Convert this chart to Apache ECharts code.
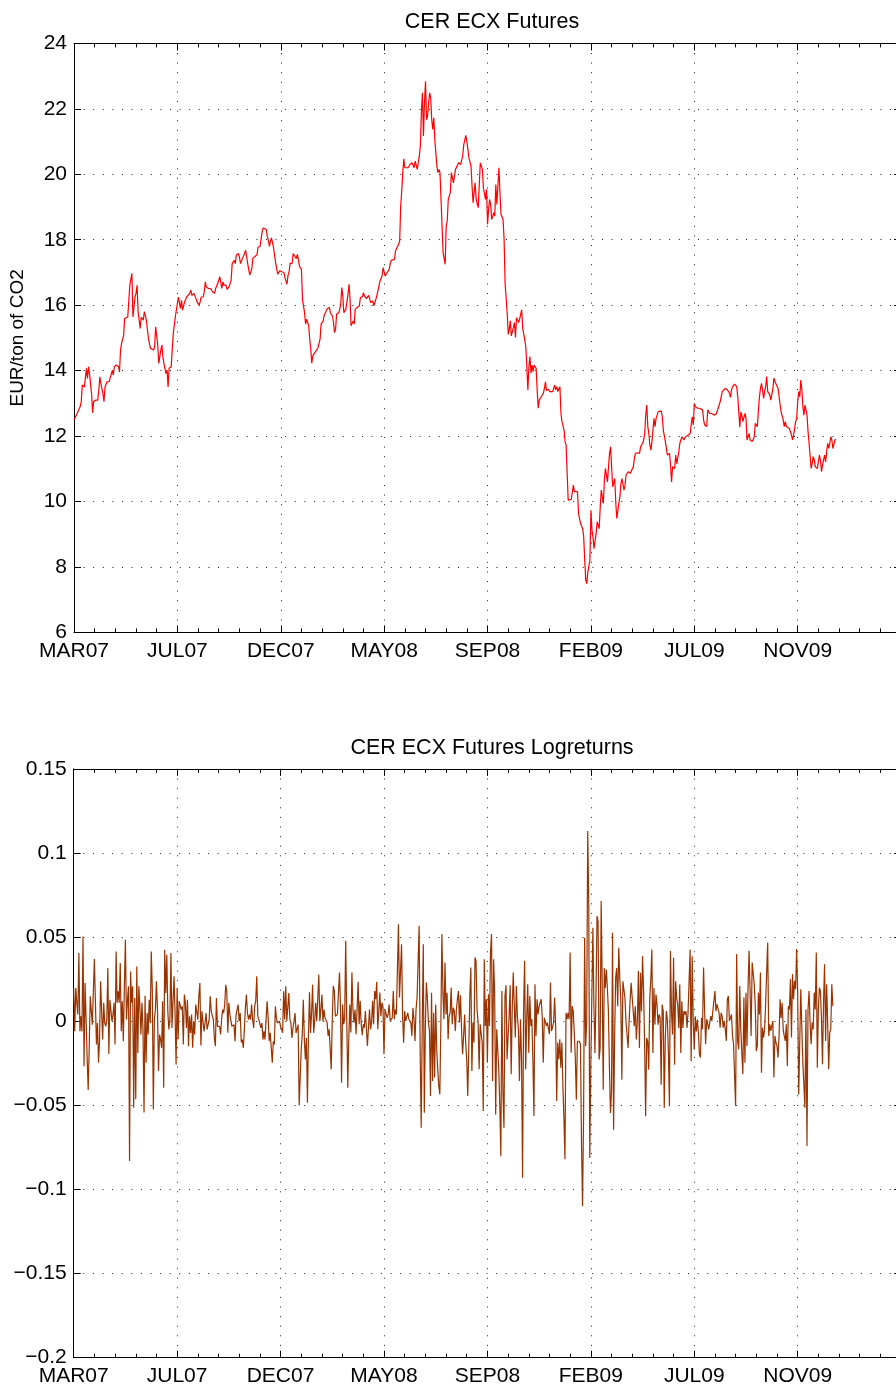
<!DOCTYPE html>
<html>
<head>
<meta charset="utf-8">
<script src="https://cdn.jsdelivr.net/npm/echarts@6/dist/echarts.min.js"></script>
<style>
html,body{margin:0;padding:0;background:#fff;overflow:hidden;}
#chart{width:910px;height:1389px;}
</style>
</head>
<body>
<div id="chart"></div>
<script>
// ---- Data (trading-day index, value) ----
const xTickLabels = ['MAR07','JUL07','DEC07','MAY08','SEP08','FEB09','JUL09','NOV09',''];
const priceTickLabels = ['6','8','10','12','14','16','18','20','22','24'];
const returnTickLabels = ['\u22120.2','\u22120.15','\u22120.1','\u22120.05','0','0.05','0.1','0.15'];

const priceSeries = [
[0,12.49],[3,12.69],[4,12.64],[6,12.9],[7,13.05],[8,13.56],[10,13.5],[11,13.49],[12,14.07],[13,13.76],[14,14.12],[15,13.9],[17,13.3],[18,12.71],[19,13.05],[21,13.1],[23,13.1],[24,13.4],[25,13.81],[26,13.6],[28,13.3],[29,13.05],[30,13.5],[32,13.66],[33,13.6],[34,13.66],[35,13.6],[37,14.0],[38,13.86],[39,14.12],[41,14.17],[43,14.12],[44,13.96],[45,14.63],[46,14.83],[48,15.08],[49,15.59],[50,15.54],[52,15.64],[53,15.59],[54,16.61],[55,16.66],[56,16.97],[57,15.64],[59,16.25],[60,16.36],[61,16.61],[62,15.8],[63,15.85],[64,15.29],[65,15.64],[67,15.54],[68,15.8],[69,15.83],[70,15.54],[72,14.98],[73,14.93],[74,14.68],[75,14.63],[77,14.63],[78,14.73],[79,15.34],[80,15.34],[81,14.78],[82,14.22],[84,14.63],[85,14.78],[86,14.42],[87,14.22],[89,13.91],[90,14.02],[91,13.5],[92,14.07],[94,14.12],[95,14.63],[96,15.13],[97,15.08],[98,15.64],[99,15.69],
[101,16.25],[102,16.25],[103,15.9],[104,16.15],[105,15.85],[107,16.1],[108,16.15],[109,16.25],[110,16.3],[112,16.36],[113,16.46],[114,16.3],[116,16.36],[117,16.36],[118,16.2],[119,16.1],[121,16.0],[122,16.1],[123,16.25],[125,16.25],[126,16.41],[127,16.71],[128,16.56],[130,16.51],[131,16.46],[132,16.51],[134,16.41],[136,16.36],[137,16.51],[139,16.66],[140,16.76],[141,16.87],[143,16.51],[144,16.71],[145,16.61],[147,16.61],[148,16.48],[150,16.56],[152,16.76],[153,17.27],[155,17.37],[156,17.27],[157,17.53],[159,17.58],[160,17.48],[161,17.27],[163,17.43],[165,17.58],[166,17.68],[168,17.27],[170,16.92],[172,17.12],[173,17.43],
[174,17.49],[175,17.49],[177,17.54],[178,17.77],[179,17.73],[180,17.8],[182,18.25],[183,18.36],[184,18.38],[186,18.31],[187,18.1],[188,17.97],[189,17.8],[190,17.95],
[191,18.06],[193,17.76],[195,17.3],[197,16.95],[198,16.94],[199,17.05],[201,17.02],[203,17.0],[204,16.84],[206,16.64],[207,16.91],[208,17.0],[209,17.28],[211,17.28],[212,17.58],[213,17.6],[215,17.42],[216,17.55],[217,17.4],[218,17.2],[220,17.08],[221,16.18],[223,15.77],[224,15.42],[225,15.57],[227,15.37],[228,14.96],[229,14.66],[230,14.23],[231,14.45],[232,14.4],[233,14.55],[234,14.6],[236,14.7],[237,14.7],[238,14.96],[239,15.42],[241,15.52],[242,15.69],[243,15.75],[245,15.9],[246,15.96],[247,15.93],[248,15.77],[250,15.67],[251,15.47],[252,15.16],[253,15.26],[254,15.72],[256,15.77],[257,15.86],[258,16.03],[259,16.54],[260,16.28],[261,15.77],[263,15.88],[264,15.93],[265,16.33],[266,16.64],[267,16.18],[268,15.37],[270,15.52],[271,15.42],[272,15.88],[274,15.93],[275,15.88],[276,15.98],[277,16.23],[279,16.26],[280,16.38],[281,16.28],[283,16.2],[284,16.26],[285,16.3],[287,16.08],[288,16.03],[289,16.13],[290,15.98],[292,16.18],[293,16.16],[294,16.44],[296,16.74],[297,16.69],[298,16.89],[299,17.15],
[301,16.89],[302,16.91],[303,17.0],[305,17.1],[306,17.3],[307,17.37],[308,17.38],[310,17.4],[311,17.66],[312,17.71],[314,17.86],[315,17.96],[316,19.03],[317,19.49],[318,20.05],[319,20.47],[320,20.2],[321,20.17],[323,20.2],[324,20.25],[325,20.3],[327,20.35],[328,20.3],[329,20.2],[330,20.4],[331,20.35],[332,20.15],[334,20.56],[335,20.86],[336,21.88],[337,22.49],[338,21.17],[339,22.18],[340,22.84],[341,21.67],[342,21.78],[343,22.18],[344,22.49],[345,22.34],[346,21.67],[347,21.37],[348,21.73],[349,21.06],[350,21.0],[351,20.25],[352,20.05],[353,20.15],[354,20.05],[355,19.23],[356,18.42],[357,17.6],[359,17.25],[360,18.42],[361,18.57],[362,19.23],[363,19.28],[364,19.44],[365,20.05],[367,19.74],[368,19.69],[369,20.15],[370,20.15],[372,20.35],[373,20.3],[374,20.3],[376,20.56],[377,20.91],[378,20.91],[379,21.19],[380,21.0],[381,20.76],[382,20.5],[383,20.56],[384,20.25],[385,19.64],[386,19.13],[387,19.18],[388,19.74],[389,19.23],[390,19.18],[391,18.98],[392,19.69],[393,20.35],[394,20.3],[395,20.15],[396,19.59],[397,19.59],[398,19.23],[399,19.54],
[400,18.47],[401,18.93],[402,19.23],[403,19.08],[404,18.62],[405,18.72],[406,18.83],[407,18.72],[408,19.69],[409,19.08],[410,19.64],[411,20.2],[412,19.44],[413,18.77],[414,18.7],[415,18.62],[416,18.01],[417,16.64],[418,16.59],[419,15.77],[420,15.11],[421,15.26],[422,15.52],[423,15.06],[424,15.06],[425,15.32],[426,15.47],[427,15.01],[428,15.62],[430,15.47],[431,15.57],
[433,15.86],[434,15.3],[435,15.3],[436,14.94],[437,14.73],[438,14.12],[439,13.41],[440,14.12],[441,14.43],[442,13.92],[443,14.17],[444,13.97],[445,14.17],[446,14.12],[447,14.07],[448,13.41],[449,12.85],[450,13.1],[451,13.05],[452,13.2],[454,13.31],[455,13.46],[456,13.66],[457,13.39],[459,13.43],[460,13.36],[461,13.41],[463,13.36],[464,13.33],[465,13.56],[466,13.41],[467,13.51],[468,13.36],[470,13.51],[471,12.69],[472,12.44],[474,12.18],[475,11.83],[476,11.72],[477,10.86],[478,10.04],[479,10.04],[481,10.07],[482,10.09],[483,10.5],[484,10.3],[485,10.35],[487,10.3],[488,9.63],[489,9.48],[490,9.33],[492,9.17],[493,8.92],[494,8.2],[495,7.59],[496,7.49],[497,7.85],[498,7.85],[499,8.2],
[500,9.73],[501,9.12],[502,8.92],[503,8.56],[505,9.02],[506,9.38],[507,9.28],[508,9.17],[509,9.84],[510,10.35],[512,9.94],[513,10.66],[514,11.01],[516,10.6],[517,11.06],[518,11.47],[519,11.67],[520,11.06],[521,10.45],[523,10.7],[524,9.99],[525,9.48],[527,9.94],[528,10.14],[529,10.55],[530,10.7],[532,10.35],[533,10.5],[534,10.81],[536,10.91],[537,10.91],[538,10.86],[539,10.81],[541,11.06],[542,11.32],[543,11.47],[545,11.49],[546,11.52],[547,11.47],[548,11.67],[550,11.78],[551,11.88],[552,12.08],[553,12.64],[554,12.95],[555,12.29],[556,12.08],[557,11.72],
[558,11.57],[559,11.83],[561,12.54],[562,12.29],[563,12.54],[564,12.54],[565,12.74],[566,12.78],[568,12.77],[569,12.59],[570,12.18],[571,12.23],[572,11.83],[574,11.42],[575,11.47],[576,11.47],[577,11.11],[578,10.6],[579,11.06],[580,11.11],[581,11.01],[582,11.42],[583,11.16],[585,11.52],[586,11.78],[587,11.83],[588,11.98],[590,11.88],[591,11.96],[592,11.93],[594,12.03],[595,12.03],[596,12.08],[597,12.34],[598,12.59],[599,12.34],
[600,13.0],[601,12.9],[603,12.85],[604,12.9],[605,12.85],[606,12.85],[608,12.8],[609,12.49],[610,12.34],[612,12.29],[613,12.8],[614,12.85],[615,12.69],[617,12.69],[618,12.64],[619,12.64],[621,12.67],[622,12.74],[623,12.85],[625,13.05],[626,13.2],[627,13.36],[628,13.41],[630,13.46],[631,13.41],[632,13.41],[634,13.31],[635,13.18],[636,13.41],[637,13.51],[638,13.51],[639,13.59],[641,13.51],[642,13.2],[643,12.74],[644,12.27],[645,12.74],[646,12.64],[647,12.44],[648,12.49],[649,12.69],[650,12.54],[651,11.88],[652,11.88],[653,12.08],[654,11.88],[655,11.88],[656,11.83],[657,11.78],[658,11.98],[659,12.39],[661,12.29],[662,12.8],[663,13.2],[664,13.46],[665,13.61],[666,13.41],[667,13.15],[668,13.36],[669,13.51],[670,13.82],[671,13.36],[672,13.41],[673,13.26],[674,13.1],[675,13.15],[676,13.46],[677,13.77],[678,13.66],[679,13.61],[681,13.46],[682,13.2],[683,12.95],[684,12.74],[686,12.49],[687,12.29],[688,12.44],[689,12.29],[690,12.34],[692,12.23],[693,12.18],[694,12.03],[695,11.88],[696,12.03],[697,12.23],[698,12.44],[699,12.54],
[700,13.05],[701,13.36],[702,13.2],[703,13.71],[704,13.41],[705,12.9],[706,12.64],[707,12.95],[708,12.9],[709,12.64],[710,12.13],[711,11.78],[712,11.83],[713,11.01],[714,11.16],[715,11.37],[716,11.27],[717,11.06],[718,11.01],[719,11.01],[720,11.01],[721,11.42],[722,11.27],[723,10.91],[724,11.11],[725,11.27],[726,11.42],[727,11.21],[728,11.52],[729,11.78],[730,11.62],[731,11.78],[732,11.98],[733,11.88],[734,11.62],[735,11.57],[736,11.88],[737,11.9]
];

// daily log returns, one value per trading day starting at day 0
const logReturns = [
0.0198,-0.0059,0.0198,0.011,0.004,0.0405,-0.006,0.003,-0.006,0.0504,
-0.0267,0.0227,0.001,-0.0217,-0.0409,-0.0158,0.0148,0.0148,-0.002,-0.002,
0.037,0.011,-0.0138,-0.001,-0.0247,-0.0109,0.0237,0.0237,-0.0109,0.011,
-0.001,-0.003,0.001,0.0316,-0.0194,0.0128,0.0119,0,0.004,0.011,
-0.0138,0.0415,0.011,0.0178,0.011,0.0346,-0.006,0.0119,-0.0119,0.0208,
0.0484,0.001,0.0128,0.0208,-0.083,0.0296,0.011,0.0208,-0.0514,0.0138,
-0.0464,0.0326,-0.0188,0.0208,0.0089,-0.0079,0.011,-0.0049,-0.0543,0.0152,
-0.0247,0.0049,-0.0079,0.0128,-0.001,0.0415,0.0188,-0.0524,0.001,0.0069,
0.0237,0.0069,-0.0296,-0.0079,-0.0109,-0.0158,0.0119,-0.0395,0.0425,0.0168,
0.0395,0.0059,-0.0049,0.001,0.0405,-0.004,-0.0049,0.0267,0.0049,-0.0257,
0.0198,-0.0109,0.0119,0.0119,0.0069,0.0089,-0.0138,0.0158,0.011,-0.004,
0.0128,-0.0148,0.003,-0.0069,0.004,-0.0158,0,-0.0079,0.0099,0.0089,
0.001,
0.0148,0.0227,-0.0144,0.0059,0,-0.006,-0.001,0.0049,-0.0049,-0.0049,
0.001,0.0148,0.0059,0.0049,0.001,-0.0099,-0.0148,0.0138,-0.003,-0.004,
-0.003,-0.0079,0.001,0.0069,0.0049,0.0099,0.0217,0.0178,-0.0069,0.011,
0.004,0.004,-0.003,-0.004,-0.002,-0.0119,0.004,0.0049,0.0099,0,
0.0049,-0.0125,-0.0109,-0.0158,-0.0049,0.0079,0.0158,0.0049,0.001,0.004,
0.001,0.0099,0.001,-0.004,0.0089,0.0119,0.0267,0.003,0.001,0.001,
-0.004,-0.001,-0.0109,-0.006,-0.0109,0.001,0.0119,0.002,-0.0119,-0.0069,
-0.0079,-0.0247,-0.0119,-0.0138,0.0089,0.002,-0.001,-0.002,0,-0.003,
-0.003,-0.0069,0.0178,0.001,0.0208,0,0.001,0.0168,0.001,-0.001,
-0.0099,-0.004,0,0.0049,-0.0069,-0.0069,-0.002,-0.05,-0.0336,-0.0168,
-0.0079,0.0128,-0.0109,-0.0227,-0.0099,-0.0484,-0.0079,0.0172,-0.0069,0.0049,
0.0217,-0.0069,0,0.011,0,0.0138,0.0277,0,0.0069,0.0158,
0,
0.007,0.002,0.003,-0.0008,-0.0087,-0.0048,-0.0048,-0.0286,0.0012,0.021,
0.018,0.003,0.003,0.004,0.017,0.029,0.007,-0.0365,0.010,-0.0018,
0.0012,0.0478,0.0012,-0.0395,-0.0097,0.010,-0.0067,0.029,0.007,-0.0008,
0.007,-0.0077,0.007,0.0234,-0.0018,0.0121,-0.0018,-0.0083,-0.0018,-0.0038,
0.006,0.005,-0.0147,-0.0038,0.007,-0.0048,-0.0008,0.0121,-0.0018,0.018,
0.0131,0.0234,-0.0048,0.006,0.017,0.003,0.011,0.009,-0.0196,0.007,
0.007,0.002,0.004,0.010,0.0002,-0.0008,0.002,0.018,0.0012,0.007,
0.004,0.005,0.0577,0.0141,0.0131,0.0458,0.003,-0.0127,0.006,0.0002,
0.0002,0.005,0.0012,0.002,-0.0008,-0.0087,0.008,0.0012,-0.0117,0.007,
0.0141,0.015,0.0567,-0.0187,-0.0633,-0.0018,0.0458,-0.0544,-0.0028,0.023,
0.0131,-0.0008,-0.0058,-0.0444,0.017,-0.0355,0.005,-0.0335,0.010,-0.0167,
-0.0286,-0.0385,-0.0435,-0.0018,0.0518,0.017,0.0012,0.0349,0.004,0.017,
-0.0107,0.003,0.005,0.020,-0.0018,0.008,0.006,-0.0058,0.007,0.0131,
0.018,-0.0008,0.0155,-0.0048,-0.0196,-0.0087,0.004,-0.0127,-0.0226,-0.0444,
-0.0167,0.015,0.032,-0.0296,-0.0008,-0.0127,0.0379,0.0359,0.007,-0.0008,
-0.0286,-0.0018,-0.0028,-0.0127,-0.0534,0.0369,-0.0028,0.0131,-0.0246,0.0161,
-0.0028,0.0409,0.0518,-0.0355,0.0369,0.017,-0.0554,-0.0048,-0.0048,-0.0286,
-0.0504,-0.0802,0.018,-0.0415,-0.0633,0.015,0.0214,-0.0226,-0.0087,0.003,
0.0214,-0.0315,0.007,0.029,0.009,-0.0097,0.021,0.003,-0.0048,-0.0355,
0.0012,-0.0216,-0.093,0.007,0.0359,-0.0286,0.0012,0.022,
-0.0187,0.015,-0.0028,0.0012,-0.0236,-0.0563,0.022,-0.0087,0.0131,0.004,
0.009,0.008,0.0131,0.003,-0.0246,0.002,0.003,-0.0028,-0.0008,0.0002,
-0.0077,0.023,-0.0058,-0.0048,-0.0008,0.0141,-0.0028,-0.0474,-0.0127,
-0.0226,-0.0107,-0.0276,-0.0127,-0.0385,-0.0583,-0.0821,0.005,0.0012,0.005,
0.0012,0.0409,-0.0187,0.009,
0.006,-0.0069,-0.0218,-0.0466,-0.0119,-0.0109,-0.0119,-0.0139,-0.0734,-0.110,
-0.0556,0.0496,-0.0149,0,0.1131,0.0694,-0.0813,-0.0258,-0.0248,0.0556,
0.0089,-0.0188,0.0159,0.0625,0.0595,-0.0228,-0.0159,0.0714,0.0218,-0.0407,
0.0317,0.0198,0.0308,0.0198,0.006,-0.0278,-0.0546,-0.0417,0.0526,-0.0645,
-0.0099,0.0258,0.0317,0.0089,0.0437,0.0258,0.0129,-0.0347,0.0238,0.0248,
0.0139,0,0,-0.0159,0,0.0129,0.0228,0.0139,0.006,-0.003,
0.0089,-0.0109,0,0.0298,-0.0159,0.0288,0.006,0.0387,0.0188,-0.0129,
-0.0565,-0.0099,-0.0119,-0.0288,0.0139,0.0248,0.0427,-0.0188,0.0198,-0.002,
0.0159,0.0099,-0.002,0.004,0.002,-0.0377,0.0099,0.006,-0.0516,-0.0099,
0.006,0.001,-0.0179,-0.0506,0.0417,0.005,-0.0079,0.0377,-0.0258,0.0238,
0.0139,0.0099,-0.004,0.0218,-0.0188,0.0119,-0.004,0.006,0.004,
0.006,-0.004,0.005,0.004,0.0427,-0.0238,0.0387,0,-0.0169,0.003,
-0.006,0.001,
-0.0067,-0.0196,-0.0216,0.002,-0.0048,0.032,0.007,-0.0137,0.0012,0.0012,
-0.0048,-0.0008,0.003,0.0002,0.006,0.007,0.018,0.006,0.010,0.011,
0.005,-0.0038,0.005,0.003,-0.0038,0.0002,-0.0048,-0.0117,0.0131,0.015,
0.0002,0.002,0.004,-0.0087,-0.0137,-0.0325,-0.0504,0.0399,-0.0117,-0.0167,
0.021,-0.0048,-0.0187,-0.0315,0.0141,-0.0246,0.017,-0.0147,0.020,0.0419,
0.017,-0.0087,0.0349,0.0359,0.022,0.009,-0.0177,-0.0147,0.017,0.004,
0.029,-0.0306,-0.0038,-0.0097,-0.0048,0.010,0.029,0.0468,-0.0087,-0.0018,
-0.0058,-0.0058,0.0002,-0.0335,-0.0087,-0.0127,-0.0147,-0.0216,-0.0087,0.0131,
0.002,0.011,-0.0048,-0.0087,-0.0117,-0.0018,-0.0266,0.009,0.007,0.025,
-0.0097,0.028,0.0131,0.024,0.019,0.0429,0.017,-0.0435,-0.0127,0.019,
-0.0038,-0.0246,-0.0236,-0.0514,0.007,-0.0742,0.007,0.018,-0.0008,-0.0137,
-0.0008,-0.0048,0.017,0.007,0.0409,-0.0276,0.007,0.020,0.018,0.0012,
-0.0256,0.011,0.0339,-0.0117,0.022,-0.0008,-0.0286,-0.0067,-0.0048,0.022,
0.009
];

// ---- Chart ----
const FONT = "'Liberation Sans', Arial, Helvetica, sans-serif";
const LABEL_SIZE = 21;
const NAME_SIZE = 19;
const TITLE_SIZE = 21.5;
const gridStyle = {color:'#222', width:1, type:[1, 8.6]};

function xAxes(gridIndex) {
  const base = {
    type:'value', gridIndex, min:0, max:800, interval:100,
    axisLine:{show:true, onZero:false, lineStyle:{color:'#000', width:1}},
    axisTick:{show:true, inside:true, length:7, lineStyle:{color:'#000', width:1}},
    minorTick:{show:true, splitNumber:5, length:4, lineStyle:{color:'#000', width:1}},
    splitLine:{show:false}
  };
  return [
    Object.assign({}, base, {
      position:'bottom',
      axisLabel:{show:true, margin:8, color:'#000', fontSize:LABEL_SIZE, fontFamily:FONT,
        formatter:(v)=>xTickLabels[Math.round(v/100)] || ''},
      splitLine:{show:true, lineStyle:gridStyle}
    }),
    Object.assign({}, base, {position:'top', axisLabel:{show:false}})
  ];
}

function yAxes(gridIndex, min, max, interval, fmt, name) {
  const base = {
    type:'value', gridIndex, min, max, interval,
    axisLine:{show:true, onZero:false, lineStyle:{color:'#000', width:1}},
    axisTick:{show:true, inside:true, length:7, lineStyle:{color:'#000', width:1}},
    splitLine:{show:false}
  };
  const left = Object.assign({}, base, {
    position:'left',
    axisLabel:{show:true, margin:7, color:'#000', fontSize:LABEL_SIZE, fontFamily:FONT, formatter:fmt},
    splitLine:{show:true, lineStyle:gridStyle}
  });
  if (name) {
    left.name = name;
    left.nameLocation = 'middle';
    left.nameGap = 47;
    left.nameTextStyle = {color:'#000', fontSize:NAME_SIZE, fontFamily:FONT};
  }
  return [left, Object.assign({}, base, {position:'right', axisLabel:{show:false}})];
}

const chart = echarts.init(document.getElementById('chart'), null, {renderer:'canvas'});
const xa = xAxes(0).concat(xAxes(1));
const ya = yAxes(0, 6, 24, 2, (v)=>priceTickLabels[Math.round((v-6)/2)], 'EUR/ton of CO2')
  .concat(yAxes(1, -0.2, 0.15, 0.05, (v)=>returnTickLabels[Math.round((v+0.2)/0.05)], null));

chart.setOption({
  animation:false,
  backgroundColor:'#fff',
  title:[
    {text:'CER ECX Futures', left:487, top:6, textAlign:'center',
     textStyle:{color:'#000', fontSize:TITLE_SIZE, fontWeight:'normal', fontFamily:FONT}},
    {text:'CER ECX Futures Logreturns', left:487, top:732, textAlign:'center',
     textStyle:{color:'#000', fontSize:TITLE_SIZE, fontWeight:'normal', fontFamily:FONT}}
  ],
  grid:[
    {left:73.7, top:43.4, width:827.4, height:589},
    {left:73.7, top:768.9, width:827.4, height:588.8}
  ],
  xAxis: xa,
  yAxis: ya,
  series:[
    {type:'line', xAxisIndex:0, yAxisIndex:0, data:priceSeries, showSymbol:false, symbol:'none',
     lineStyle:{color:'#ff0000', width:1.2}, itemStyle:{color:'#ff0000'}, silent:true},
    {type:'line', xAxisIndex:2, yAxisIndex:2, data:logReturns.map((v,i)=>[i,v]), showSymbol:false, symbol:'none',
     lineStyle:{color:'#9a3300', width:1.2}, itemStyle:{color:'#9a3300'}, silent:true}
  ]
});
</script>
</body>
</html>
